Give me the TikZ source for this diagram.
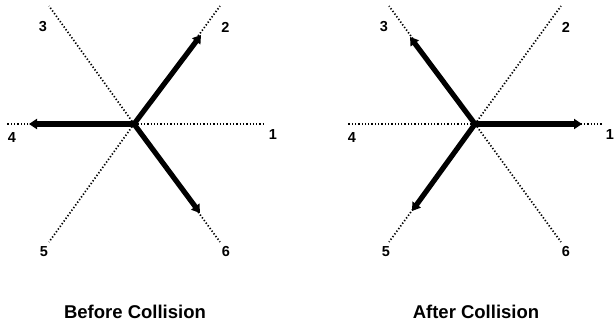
\documentclass[tikz,border=0pt]{standalone}
\usepackage{fontspec}
\setmainfont{Liberation Sans}
\usetikzlibrary{arrows.meta}

\begin{document}
\begin{tikzpicture}[
  x=1pt, y=-1pt,
  every node/.style={inner sep=0pt},
  % dotted direction lines of the hexagonal lattice
  axis/.style={line width=1.7pt, dash pattern=on 1.3pt off 2pt, draw=black},
  move/.style={-{Triangle[length=8pt,width=10pt]}, line width=5.2pt, line cap=round},
  num/.style={font=\bfseries\fontsize{14.5}{16}\selectfont},
  caption/.style={font=\bfseries\fontsize{18.5}{20}\selectfont}
]
\useasboundingbox (0,0) rectangle (615,324);

% Before collision
\coordinate (bc) at (134,124);
\coordinate (b1) at (263,124);
\coordinate (b2) at (220,6);
\coordinate (b3) at (49,6);
\coordinate (b4) at (7,124);
\coordinate (b5) at (49,242);
\coordinate (b6) at (220,242);
\foreach \k in {1,...,6} \draw[axis] (bc) -- (b\k);

\coordinate (bt2) at (201,35);
\coordinate (bt4) at (29,124);
\coordinate (bt6) at (200,213);
\draw[move] (bc) -- (bt2);
\draw[move] (bc) -- (bt4);
\draw[move] (bc) -- (bt6);

\node[num] (bn1) at (273,135) {1};
\node[num] (bn2) at (225.5,27) {2};
\node[num] (bn3) at (43,27) {3};
\node[num] (bn4) at (12,138) {4};
\node[num] (bn5) at (44,252) {5};
\node[num] (bn6) at (226,252) {6};
\node[caption] (before) at (135,312) {Before Collision};

% After collision
\coordinate (ac) at (475,124);
\coordinate (a1) at (603,124);
\coordinate (a2) at (561,6);
\coordinate (a3) at (389,6);
\coordinate (a4) at (347,124);
\coordinate (a5) at (389,242);
\coordinate (a6) at (561,242);
\foreach \k in {1,...,6} \draw[axis] (ac) -- (a\k);

\coordinate (at1) at (582,124);
\coordinate (at3) at (410,37);
\coordinate (at5) at (412,211);
\draw[move] (ac) -- (at1);
\draw[move] (ac) -- (at3);
\draw[move] (ac) -- (at5);

\node[num] (an1) at (610,135) {1};
\node[num] (an2) at (566,27) {2};
\node[num] (an3) at (384,27) {3};
\node[num] (an4) at (352,138) {4};
\node[num] (an5) at (386,252) {5};
\node[num] (an6) at (566,252) {6};
\node[caption] (after) at (476,312) {After Collision};
\end{tikzpicture}
\end{document}
